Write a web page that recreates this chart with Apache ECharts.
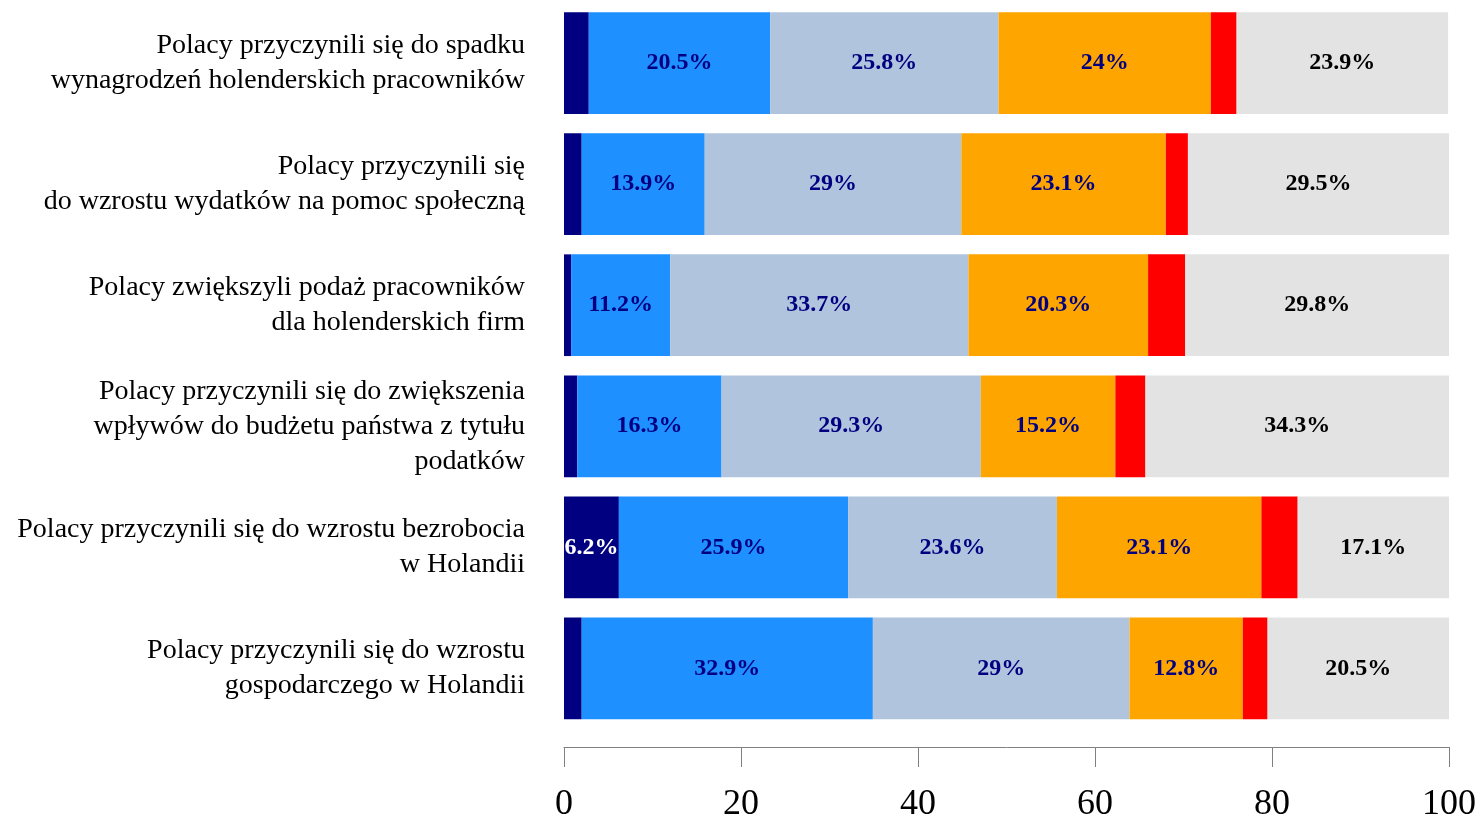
<!DOCTYPE html>
<html>
<head>
<meta charset="utf-8">
<script src="https://cdn.jsdelivr.net/npm/echarts@6/dist/echarts.min.js"></script>
<style>
  html, body { margin: 0; padding: 0; background: #fff; }
  #chart { width: 1479px; height: 820px; }
</style>
</head>
<body>
<div id="chart"></div>
<script>
// categories, top to bottom
const categories = [
  'Polacy przyczynili się do spadku\nwynagrodzeń holenderskich pracowników',
  'Polacy przyczynili się\ndo wzrostu wydatków na pomoc społeczną',
  'Polacy zwiększyli podaż pracowników\ndla holenderskich firm',
  'Polacy przyczynili się do zwiększenia\nwpływów do budżetu państwa z tytułu\npodatków',
  'Polacy przyczynili się do wzrostu bezrobocia\nw Holandii',
  'Polacy przyczynili się do wzrostu\ngospodarczego w Holandii'
];

// segment values (%), same order as categories
const s1 = [2.8, 2.0, 0.8, 1.5, 6.2, 2.0];
const s2 = [20.5, 13.9, 11.2, 16.3, 25.9, 32.9];
const s3 = [25.8, 29, 33.7, 29.3, 23.6, 29];
const s4 = [24, 23.1, 20.3, 15.2, 23.1, 12.8];
const s5 = [2.9, 2.5, 4.2, 3.4, 4.1, 2.8];
const s6 = [23.9, 29.5, 29.8, 34.3, 17.1, 20.5];

const xTicks = [0, 20, 40, 60, 80, 100];

const segments = [
  { data: s1, color: '#000080', text: '#ffffff' },
  { data: s2, color: '#1E90FF', text: '#000080' },
  { data: s3, color: '#B0C4DE', text: '#000080' },
  { data: s4, color: '#FFA500', text: '#000080' },
  { data: s5, color: '#FF0000', text: '#000080' },
  { data: s6, color: '#E3E3E3', text: '#000000' }
];

const chart = echarts.init(document.getElementById('chart'));

const series = segments.map(seg => ({
  type: 'bar',
  stack: 'total',
  data: seg.data,
  barCategoryGap: '16%',
  itemStyle: { color: seg.color },
  label: {
    show: true,
    position: 'inside',
    color: seg.text,
    fontFamily: 'Liberation Serif',
    fontWeight: 'bold',
    fontSize: 24,
    formatter: p => (p.value >= 5 ? p.value + '%' : '')
  },
  emphasis: { disabled: true }
}));

chart.setOption({
  animation: false,
  grid: {
    left: 564, right: 30, top: 2.5, bottom: 91,
    containLabel: false,
    outerBoundsMode: 'none'
  },
  xAxis: {
    type: 'value',
    min: xTicks[0],
    max: xTicks[xTicks.length - 1],
    interval: 20,
    offset: 18,
    splitLine: { show: false },
    axisLine: { show: true, lineStyle: { color: '#808080', width: 1 } },
    axisTick: { show: true, length: 20, lineStyle: { color: '#808080' } },
    axisLabel: {
      margin: 40,
      fontFamily: 'Liberation Serif',
      fontSize: 36,
      color: '#000'
    }
  },
  yAxis: {
    type: 'category',
    data: categories,
    inverse: true,
    axisLine: { show: false },
    axisTick: { show: false },
    axisLabel: {
      margin: 39,
      fontFamily: 'Liberation Serif',
      fontSize: 28,
      lineHeight: 35,
      color: '#000',
      align: 'right'
    }
  },
  series: series
});
</script>
</body>
</html>
